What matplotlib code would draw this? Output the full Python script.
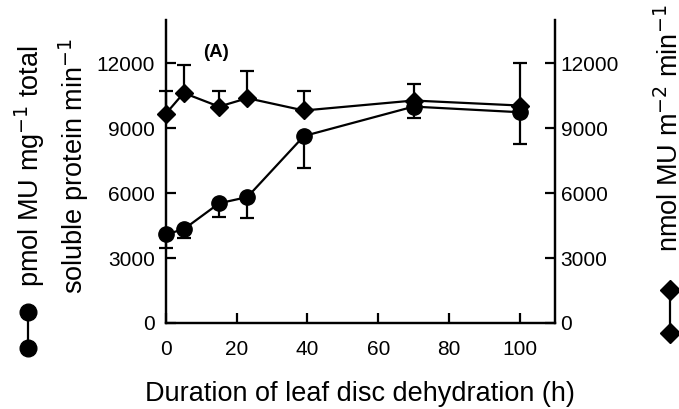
import matplotlib
matplotlib.use("Agg")
import matplotlib.pyplot as plt
from matplotlib.lines import Line2D

plt.rcParams['font.family'] = ['Liberation Sans', 'DejaVu Sans']

# Duration of dehydration (h)
hours = [0, 5, 15, 23, 39, 70, 100]

# pmol MU mg-1 total soluble protein min-1 (circles), error shown downward
per_protein = [4100, 4330, 5530, 5820, 8640, 10000, 9740]
per_protein_low = [3450, 3920, 4900, 4840, 7170, 9480, 8280]

# nmol MU m-2 min-1 (diamonds), error shown upward
per_area = [9680, 10630, 10000, 10390, 9820, 10280, 10050]
per_area_high = [10700, 11920, 10710, 11660, 10740, 11050, 12020]

x_ticks = [0, 20, 40, 60, 80, 100]
y_ticks = [0, 3000, 6000, 9000, 12000]

fig = plt.figure(figsize=(6.79, 4.09), dpi=100)
ax = fig.add_axes([0.2445, 0.2103, 0.5729, 0.7407])
ax2 = ax.twinx()

err_low = [[p - l for p, l in zip(per_protein, per_protein_low)], [0] * len(hours)]
err_high = [[0] * len(hours), [h - p for p, h in zip(per_area, per_area_high)]]

ax.errorbar(hours, per_protein, yerr=err_low, fmt='-o', color='black', ms=11,
            lw=1.6, elinewidth=1.6, capsize=4.7, capthick=1.6, clip_on=False, zorder=3)
ax2.errorbar(hours, per_area, yerr=err_high, fmt='-D', color='black', ms=9,
             lw=1.6, elinewidth=1.6, capsize=4.7, capthick=1.6, clip_on=False, zorder=3)

for a in (ax, ax2):
    a.set_xlim(0, 110)
    a.set_ylim(0, 14000)
    a.set_yticks(y_ticks)
    a.spines['top'].set_visible(False)
    for s in a.spines.values():
        s.set_linewidth(1.6)

ax.set_xticks(x_ticks)
ax.tick_params(axis='x', direction='in', length=7, width=1.6, labelsize=15, pad=12)
ax.tick_params(axis='y', direction='in', length=7, width=1.6, labelsize=15, pad=8)
ax2.tick_params(axis='y', direction='in', length=7, width=1.6, labelsize=15, pad=4)

ax.text(14, 12500, '(A)', fontsize=13.5, fontweight='bold', ha='center', va='center')

fig.text(0.53, 0.004, 'Duration of leaf disc dehydration (h)', fontsize=19.5, ha='center', va='bottom')
fig.text(0.076, 0.594, 'pmol MU mg$^{-1}$ total\nsoluble protein min$^{-1}$', fontsize=19.5,
         rotation=90, ha='center', va='center', linespacing=1.35)
fig.text(0.966, 0.384, 'nmol MU m$^{-2}$ min$^{-1}$', fontsize=19.5,
         rotation=90, ha='left', va='bottom')

# legend glyphs beside the axis labels
fig.add_artist(Line2D([28 / 679, 28 / 679], [1 - 312 / 409, 1 - 348 / 409], transform=fig.transFigure,
                      color='black', lw=1.6, marker='o', ms=12))
fig.add_artist(Line2D([670 / 679, 670 / 679], [1 - 290 / 409, 1 - 333 / 409], transform=fig.transFigure,
                      color='black', lw=1.6, marker='D', ms=10))

fig.savefig('out.png', dpi=100)
